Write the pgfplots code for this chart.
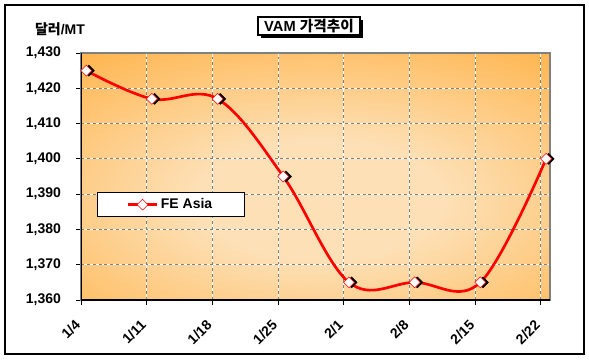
\documentclass[border=0pt]{standalone}
\usepackage{pgfplots}
\pgfplotsset{compat=1.18}
\usepackage{fontspec}
\setmainfont{Liberation Sans}
\newfontfamily\cjk{Noto Sans CJK KR}
\definecolor{bglight}{RGB}{253,224,182}
\definecolor{bgorange}{RGB}{255,153,10}
\definecolor{linered}{RGB}{255,0,0}
\pgfdeclareradialshading{orangeglow}{\pgfpoint{0bp}{0bp}}{color(0bp)=(bglight); color(10bp)=(bglight); color(45bp)=(bgorange); color(50bp)=(bgorange)}
\begin{document}
\begin{tikzpicture}
\begin{scope}[x=0.75pt,y=-0.75pt]
  \useasboundingbox (0,0) rectangle (589,362);
  \draw[black, line width=1pt] (5,5) rectangle (584,354);
  \fill[bgorange] (81,53) rectangle (550,300);
  \begin{scope}
    \clip (81,53) rectangle (550,300);
    \shade[shading=orangeglow] (10,50) rectangle (630,350);
  \end{scope}
  % title
  \fill[black] (260.5,19.5) rectangle (362.5,37.5);
  \draw[black, fill=white, line width=0.9pt] (258,17) rectangle (360,35);
  \node[font=\bfseries\fontsize{11}{12}\selectfont, inner sep=0pt] at (309,26.5) {VAM {\cjk 가격추이}};
  % y unit
  \node[font=\bfseries\fontsize{10.5}{12}\selectfont, inner sep=0pt] at (60,29) {{\cjk 달러}/MT};
\end{scope}
\begin{axis}[
  at={(60.75pt,-225pt)}, anchor=south west,
  scale only axis, width=351.75pt, height=185.25pt,
  xmin=0, xmax=7.14, ymin=1360, ymax=1430,
  xtick={0,...,7},
  xticklabels={1/4,1/11,1/18,1/25,2/1,2/8,2/15,2/22},
  ytick={1360,1370,...,1430},
  /pgf/number format/assume math mode=true,
  /pgf/number format/1000 sep={,},
  ticklabel style={font=\bfseries\fontsize{10.5}{12}\selectfont},
  xticklabel style={rotate=45, anchor=east},
  xticklabel shift={11pt},
  yticklabel style={xshift=-8pt},
  xtick pos=bottom, ytick pos=left,
  tick align=outside,
  major tick length=3.5pt,
  tick style={black, line width=0.75pt},
  axis line style={draw=gray, line width=1.5pt},
  grid=major,
  major grid style={draw=gray, line width=0.8pt, dash pattern=on 2.2pt off 2.2pt,
     postaction={draw=white, line width=0.8pt, dash pattern=on 2.2pt off 2.2pt, dash phase=2.2pt}},
  legend style={at={(0.034,0.437)}, anchor=north west, draw=black, line width=0.75pt,
     fill=white, inner xsep=22pt, inner ysep=2.5pt,
     font=\bfseries\fontsize{10.5}{12}\selectfont},
  legend image code/.code={\draw[#1, mark repeat=2, mark phase=2] plot coordinates {(0cm,0cm) (0.38cm,0cm) (0.76cm,0cm)};},
]
\addplot[linered, line width=2pt, smooth, tension=0.6, mark=none, forget plot] coordinates {
 (0.08,1425) (1.08,1417) (2.08,1417) (3.08,1395) (4.08,1365) (5.08,1365) (6.08,1365) (7.08,1400)};
\addplot[only marks, mark=square*, mark size=2.9pt, forget plot,
  mark options={rotate=45, fill=black, draw=black, xshift=1.4pt, yshift=-1.4pt}] coordinates {
 (0.08,1425) (1.08,1417) (2.08,1417) (3.08,1395) (4.08,1365) (5.08,1365) (6.08,1365) (7.08,1400)};
\addplot[only marks, mark=square*, mark size=2.9pt, forget plot,
  mark options={rotate=45, fill=white, draw=linered, line width=0.4pt}] coordinates {
 (0.08,1425) (1.08,1417) (2.08,1417) (3.08,1395) (4.08,1365) (5.08,1365) (6.08,1365) (7.08,1400)};
\addlegendimage{linered, line width=2pt, mark=square*, mark size=2.9pt, mark options={rotate=45, fill=white, draw=linered, line width=0.4pt}}
\addlegendentry{FE Asia}
\draw[black, line width=1pt] (rel axis cs:0,1) -- (rel axis cs:0,0) -- (rel axis cs:1,0);
\end{axis}
\end{tikzpicture}
\end{document}
